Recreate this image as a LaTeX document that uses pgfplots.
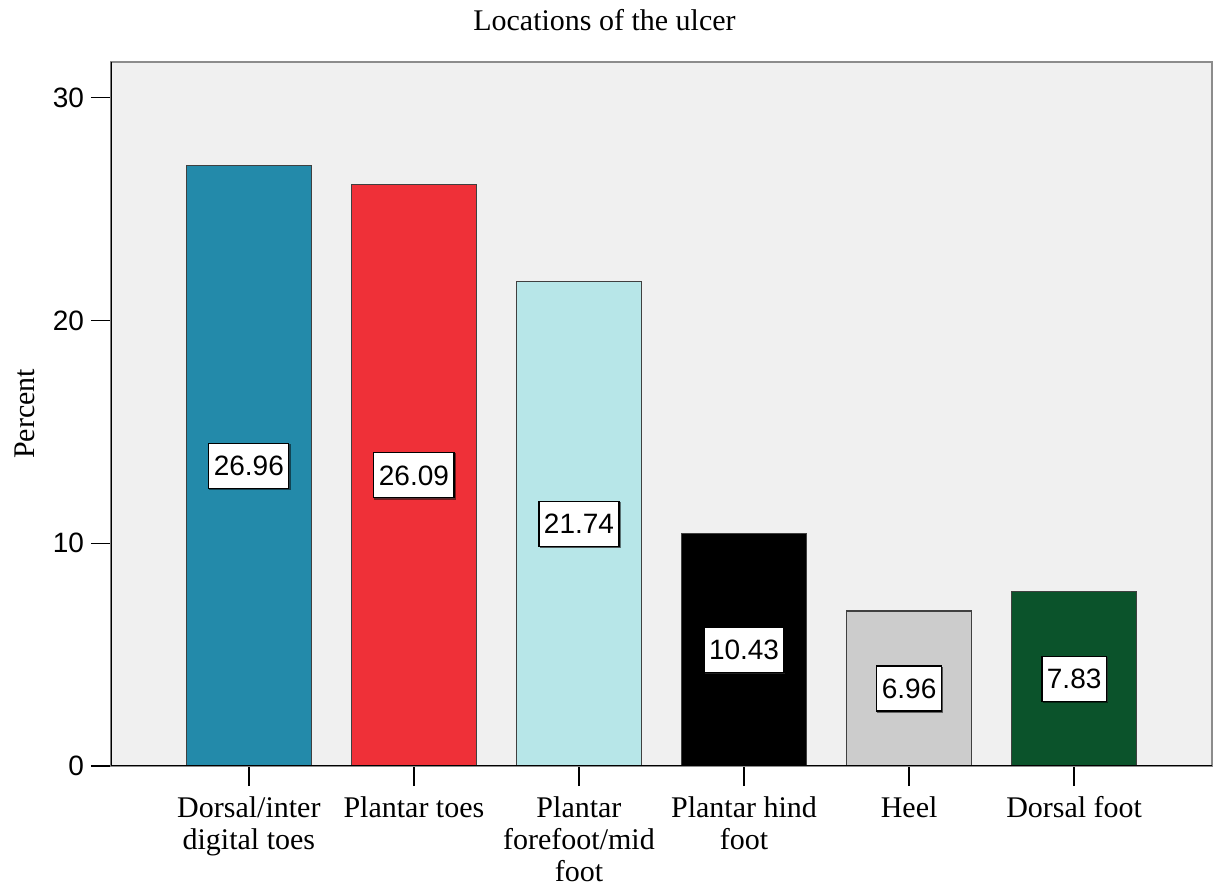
\documentclass[border=0pt]{standalone}
\usepackage{fontspec}
\setmainfont{Liberation Serif}
\newfontfamily\numfont{Liberation Sans}
\usepackage{pgfplots}
\usepackage{pgfplotstable}
\usetikzlibrary{shadows}
\pgfplotsset{compat=1.18}
\definecolor{bg}{RGB}{240,240,240}
\definecolor{cA}{RGB}{35,138,170}
\definecolor{cB}{RGB}{239,48,56}
\definecolor{cC}{RGB}{183,230,232}
\definecolor{cD}{RGB}{0,0,0}
\definecolor{cE}{RGB}{204,204,204}
\definecolor{cF}{RGB}{11,83,43}
\pgfplotstableread{
x y
1 26.96
2 26.09
3 21.74
4 10.43
5 6.96
6 7.83
}\data
\begin{document}
\begin{tikzpicture}
\begin{axis}[name=ax, scale only axis, width=550.5pt, height=352pt,
  xmin=0.165, xmax=6.835, ymin=0, ymax=31.6,
  bar width=62.5pt,
  axis background/.style={fill=bg},
  axis line style={draw=black!45, line width=0.7pt},
  xtick={1,...,6},
  xticklabels={{\strut Dorsal/inter\\digital toes},{\strut Plantar toes},{\strut Plantar\\forefoot/mid\\foot},{\strut Plantar hind\\foot},{\strut Heel},{\strut Dorsal foot}},
  xticklabel style={align=center, font=\fontsize{15}{16}\selectfont, anchor=north, yshift=-1pt},
  ytick={0,10,20,30},
  yticklabel style={font=\numfont\fontsize{14}{16}\selectfont},
  /pgf/number format/assume math mode=true,
  tick align=outside, major tick length=10pt,
  tick style={black, line width=0.7pt},
  xtick pos=bottom, ytick pos=left,
  title={Locations of the ulcer},
  title style={at={(0.5,1)}, anchor=base, yshift=9.5pt, xshift=-28.5pt, font=\fontsize{15}{16.5}\selectfont},
  ylabel={Percent},
  ylabel style={at={(axis description cs:-0.078,0.5)}, anchor=center, font=\fontsize{15}{16.5}\selectfont},
]
\addplot[ybar, bar shift=0pt, fill=cA, draw=black!75, line width=0.6pt] coordinates {(1,26.96)};
\addplot[ybar, bar shift=0pt, fill=cB, draw=black!75, line width=0.6pt] coordinates {(2,26.09)};
\addplot[ybar, bar shift=0pt, fill=cC, draw=black!75, line width=0.6pt] coordinates {(3,21.74)};
\addplot[ybar, bar shift=0pt, fill=cD, draw=black!75, line width=0.6pt] coordinates {(4,10.43)};
\addplot[ybar, bar shift=0pt, fill=cE, draw=black!75, line width=0.6pt] coordinates {(5,6.96)};
\addplot[ybar, bar shift=0pt, fill=cF, draw=black!75, line width=0.6pt] coordinates {(6,7.83)};
\addplot[only marks, mark=none, point meta=explicit,
  nodes near coords={\pgfmathprintnumber[fixed,precision=2,fixed zerofill,assume math mode=true]{\pgfplotspointmeta}},
  every node near coord/.append style={anchor=center, draw=black, fill=white, line width=0.6pt,
    font=\numfont\fontsize{14}{16}\selectfont, inner xsep=2.5pt, minimum height=22.5pt, text=black,
    drop shadow={shadow xshift=0.6pt, shadow yshift=-0.6pt, fill=black!50}}]
  table[x=x, y expr=\thisrow{y}/2, meta=y] {\data};
\draw[black, line width=0.7pt] (rel axis cs:0,1) -- (rel axis cs:0,0) -- (rel axis cs:1,0);
\end{axis}
\pgfresetboundingbox
\path ([shift={(-55.5pt,-60.5pt)}]ax.south west) rectangle ([shift={(1pt,31pt)}]ax.north east);
\end{tikzpicture}
\end{document}
